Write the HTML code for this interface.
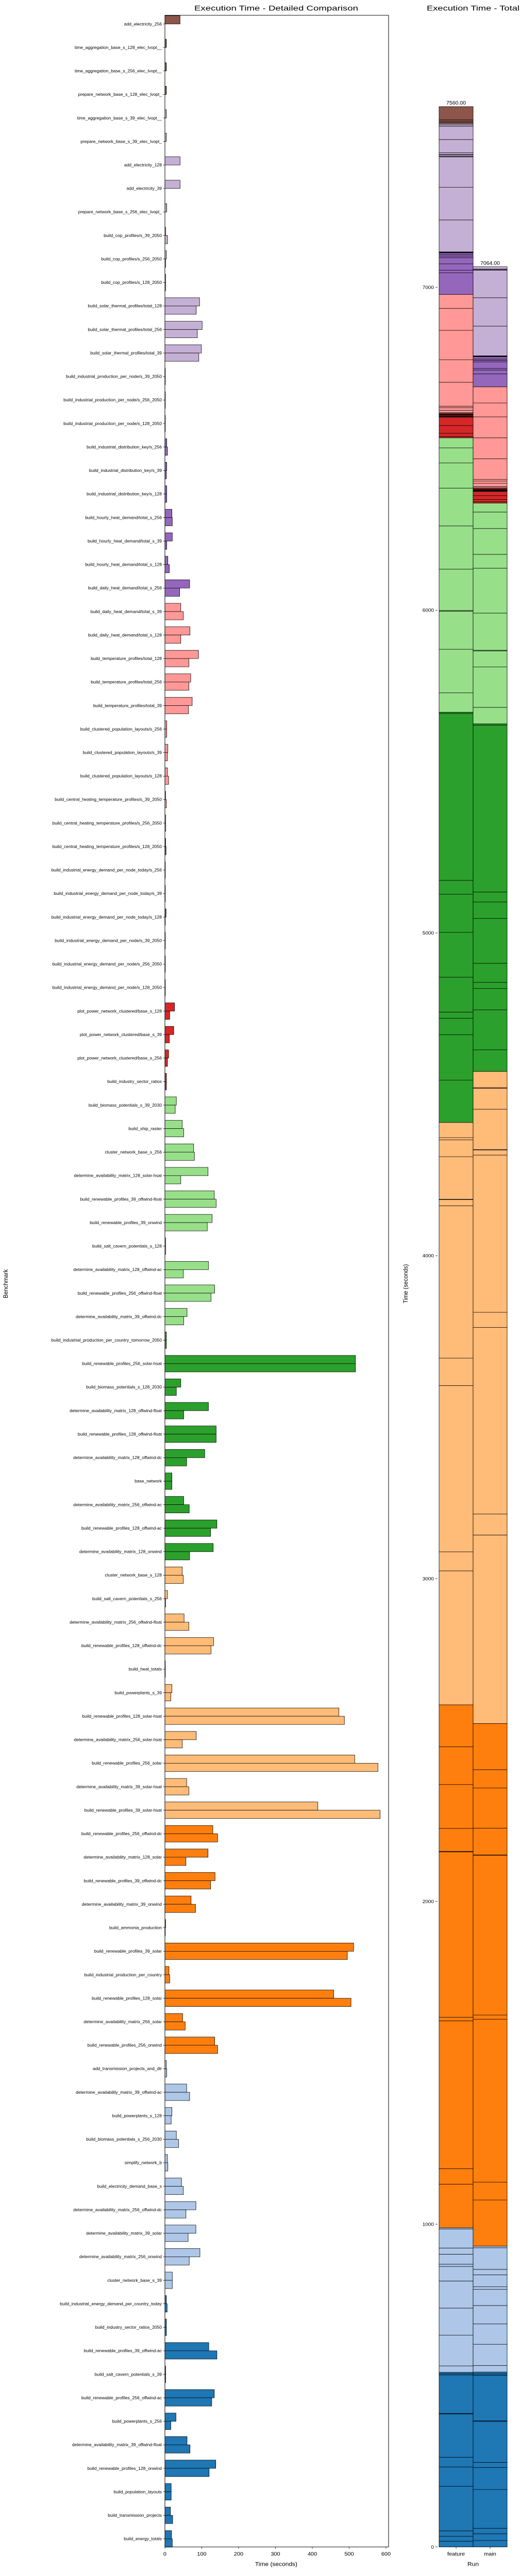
<!DOCTYPE html>
<html><head><meta charset="utf-8">
<style>
html,body{margin:0;padding:0;background:#fff;}
svg{display:block;font-family:"Liberation Sans",sans-serif;}
</style></head>
<body>
<svg id="chart" width="1009" height="5390" viewBox="0 0 1009 5390" xmlns="http://www.w3.org/2000/svg"><g id="root" transform="scale(1,0.9263)"></g></svg>
<script>
const categories = ["add_electricity_256","time_aggregation_base_s_128_elec_lvopt__","time_aggregation_base_s_256_elec_lvopt__","prepare_network_base_s_128_elec_lvopt_","time_aggregation_base_s_39_elec_lvopt__","prepare_network_base_s_39_elec_lvopt_","add_electricity_128","add_electricity_39","prepare_network_base_s_256_elec_lvopt_","build_cop_profiles/s_39_2050","build_cop_profiles/s_256_2050","build_cop_profiles/s_128_2050","build_solar_thermal_profiles/total_128","build_solar_thermal_profiles/total_256","build_solar_thermal_profiles/total_39","build_industrial_production_per_node/s_39_2050","build_industrial_production_per_node/s_256_2050","build_industrial_production_per_node/s_128_2050","build_industrial_distribution_key/s_256","build_industrial_distribution_key/s_39","build_industrial_distribution_key/s_128","build_hourly_heat_demand/total_s_256","build_hourly_heat_demand/total_s_39","build_hourly_heat_demand/total_s_128","build_daily_heat_demand/total_s_256","build_daily_heat_demand/total_s_39","build_daily_heat_demand/total_s_128","build_temperature_profiles/total_128","build_temperature_profiles/total_256","build_temperature_profiles/total_39","build_clustered_population_layouts/s_256","build_clustered_population_layouts/s_39","build_clustered_population_layouts/s_128","build_central_heating_temperature_profiles/s_39_2050","build_central_heating_temperature_profiles/s_256_2050","build_central_heating_temperature_profiles/s_128_2050","build_industrial_energy_demand_per_node_today/s_256","build_industrial_energy_demand_per_node_today/s_39","build_industrial_energy_demand_per_node_today/s_128","build_industrial_energy_demand_per_node/s_39_2050","build_industrial_energy_demand_per_node/s_256_2050","build_industrial_energy_demand_per_node/s_128_2050","plot_power_network_clustered/base_s_128","plot_power_network_clustered/base_s_39","plot_power_network_clustered/base_s_256","build_industry_sector_ratios","build_biomass_potentials_s_39_2030","build_ship_raster","cluster_network_base_s_256","determine_availability_matrix_128_solar-hsat","build_renewable_profiles_39_offwind-float","build_renewable_profiles_39_onwind","build_salt_cavern_potentials_s_128","determine_availability_matrix_128_offwind-ac","build_renewable_profiles_256_offwind-float","determine_availability_matrix_39_offwind-dc","build_industrial_production_per_country_tomorrow_2050","build_renewable_profiles_256_solar-hsat","build_biomass_potentials_s_128_2030","determine_availability_matrix_128_offwind-float","build_renewable_profiles_128_offwind-float","determine_availability_matrix_128_offwind-dc","base_network","determine_availability_matrix_256_offwind-ac","build_renewable_profiles_128_offwind-ac","determine_availability_matrix_128_onwind","cluster_network_base_s_128","build_salt_cavern_potentials_s_256","determine_availability_matrix_256_offwind-float","build_renewable_profiles_128_offwind-dc","build_heat_totals","build_powerplants_s_39","build_renewable_profiles_128_solar-hsat","determine_availability_matrix_256_solar-hsat","build_renewable_profiles_256_solar","determine_availability_matrix_39_solar-hsat","build_renewable_profiles_39_solar-hsat","build_renewable_profiles_256_offwind-dc","determine_availability_matrix_128_solar","build_renewable_profiles_39_offwind-dc","determine_availability_matrix_39_onwind","build_ammonia_production","build_renewable_profiles_39_solar","build_industrial_production_per_country","build_renewable_profiles_128_solar","determine_availability_matrix_256_solar","build_renewable_profiles_256_onwind","add_transmission_projects_and_dlr","determine_availability_matrix_39_offwind-ac","build_powerplants_s_128","build_biomass_potentials_s_256_2030","simplify_network_b","build_electricity_demand_base_s","determine_availability_matrix_256_offwind-dc","determine_availability_matrix_39_solar","determine_availability_matrix_256_onwind","cluster_network_base_s_39","build_industrial_energy_demand_per_country_today","build_industry_sector_ratios_2050","build_renewable_profiles_39_offwind-ac","build_salt_cavern_potentials_s_39","build_renewable_profiles_256_offwind-ac","build_powerplants_s_256","determine_availability_matrix_39_offwind-float","build_renewable_profiles_128_onwind","build_population_layouts","build_transmission_projects","build_energy_totals"];
const featureValues = [41,4,4,4,4,4,41,41,5,2,4,2,94,101,99,1,1,1,5,5,5,19,20,8,67,43,68,91,70,74,5,8,7,2,2,2,1,1,3,1,1,1,26,24,10,4,31,47,78,117,134,128,2,118,135,60,4,517,43,118,139,108,19,51,141,131,47,7,52,132,1,19,472,85,515,59,415,130,117,136,71,2,512,11,458,48,135,4,59,19,31,7,45,84,84,95,20,4,4,119,2,134,30,60,138,17,15,18];
const mainValues = [0,0,0,0,0,0,0,0,0,7,2,2,85,88,92,1,1,1,7,4,5,20,5,12,40,50,43,65,65,64,5,7,10,4,2,3,1,1,1,1,1,1,13,12,7,4,28,51,80,43,139,115,2,50,125,51,4,517,31,51,139,59,19,66,124,67,50,2,65,125,1,16,487,47,578,65,584,143,57,124,83,1,495,13,505,55,143,5,67,17,37,8,50,57,63,66,20,6,4,141,2,127,16,68,120,17,21,20];
const runs = ["feature","main"];
const xTicks = [0,100,200,300,400,500,600];
const yTicksTotal = [0,1000,2000,3000,4000,5000,6000,7000];

const colorGroups=[[0,"#8c564b"],[4,"#c5b0d5"],[18,"#9467bd"],[25,"#ff9896"],[35,"#d62728"],[46,"#98df8a"],[56,"#2ca02c"],[66,"#ffbb78"],[77,"#ff7f0e"],[87,"#aec7e8"],[97,"#1f77b4"]];
function colorOf(i){let c=colorGroups[0][1];for(const g of colorGroups){if(i>=g[0])c=g[1];}return c;}

const root=document.getElementById('root');
const NS="http://www.w3.org/2000/svg";
function el(tag,attrs,parent){const e=document.createElementNS(NS,tag);for(const k in attrs)e.setAttribute(k,attrs[k]);(parent||root).appendChild(e);return e;}

const L={x0:320,x1:754,y0:32,y1:5337};
const xPerSec=71.5;
function xScale(v){return L.x0+v*xPerSec/100;}
const step=49.25, firstY=50.2;
function yCenter(i){return firstY+i*step;}
const barH=17.3;

const left=el('g',{});



const t1=el('text',{x:536,y:22,'text-anchor':'middle','font-size':15,textLength:318,lengthAdjust:'spacingAndGlyphs'},left);
t1.textContent="Execution Time - Detailed Comparison";



categories.forEach((name,i)=>{
  const yc=yCenter(i);
  const g=el('g',{},left);
  
  
  const c=colorOf(i);
  if(featureValues[i]>0){
    const r=el('rect',{x:xScale(0),y:yc-barH,width:xScale(featureValues[i])-xScale(0),height:barH,fill:c,stroke:'#000','stroke-width':0.8},g);
    
    
  }
  if(mainValues[i]>0){
    const r=el('rect',{x:xScale(0),y:yc,width:xScale(mainValues[i])-xScale(0),height:barH,fill:c,stroke:'#000','stroke-width':0.8},g);
    
    
  }
  el('line',{x1:L.x0-3.5,x2:L.x0,y1:yc,y2:yc,stroke:'#000','stroke-width':0.8},g);
  const t=el('text',{x:L.x0-6,y:yc+3,'text-anchor':'end','font-size':8.5},g);
  t.textContent=name;
  
  
});

const frame=el('rect',{x:L.x0,y:L.y0,width:L.x1-L.x0,height:L.y1-L.y0,fill:'none',stroke:'#000','stroke-width':1},left);



xTicks.forEach(v=>{
  const x=xScale(v);
  el('line',{x1:x,x2:x,y1:L.y1,y2:L.y1+3.5,stroke:'#000','stroke-width':0.8},left);
  const t=el('text',{x:x,y:L.y1+18,'text-anchor':'middle','font-size':11},left);
  t.textContent=String(v);
  
  
});
const xl=el('text',{x:536,y:5377,'text-anchor':'middle','font-size':12},left);
xl.textContent="Time (seconds)";


const yl=el('text',{x:0,y:0,'text-anchor':'middle','font-size':12,transform:'translate(15,2690) rotate(-90)'},left);
yl.textContent="Benchmark";



const R={y0base:5337,pxPerUnit:0.6764};
function yScaleTot(v){return R.y0base-v*R.pxPerUnit;}
const colX=[852,918], colW=66;
const right=el('g',{});


const t2=el('text',{x:918,y:22,'text-anchor':'middle','font-size':15,textLength:180,lengthAdjust:'spacingAndGlyphs'},right);
t2.textContent="Execution Time - Total";



[featureValues,mainValues].forEach((vals,ri)=>{
  let cum=0;
  for(let i=vals.length-1;i>=0;i--){
    const v=vals[i];
    if(v<=0)continue;
    const yTop=yScaleTot(cum+v), yBot=yScaleTot(cum);
    const r=el('rect',{x:colX[ri],y:yTop,width:colW,height:yBot-yTop,fill:colorOf(i),stroke:'#000','stroke-width':0.8},right);
    
    
    cum+=v;
  }
  const lab=el('text',{x:colX[ri]+colW/2,y:yScaleTot(cum)-4,'text-anchor':'middle','font-size':10.5},right);
  lab.textContent=cum.toFixed(2);
  
  
  const tx=colX[ri]+colW/2;
  el('line',{x1:tx,x2:tx,y1:R.y0base,y2:R.y0base+3.5,stroke:'#000','stroke-width':0.8},right);
  const rl=el('text',{x:tx,y:R.y0base+18,'text-anchor':'middle','font-size':11},right);
  rl.textContent=runs[ri];
  
  
});
yTicksTotal.forEach(v=>{
  const y=yScaleTot(v);
  el('line',{x1:845,x2:849,y1:y,y2:y,stroke:'#000','stroke-width':0.8},right);
  const t=el('text',{x:842,y:y+3.5,'text-anchor':'end','font-size':10},right);
  t.textContent=String(v);
  
  
});
const rx=el('text',{x:918,y:5377,'text-anchor':'middle','font-size':12},right);
rx.textContent="Run";


const ry=el('text',{x:0,y:0,'text-anchor':'middle','font-size':12,transform:'translate(791,2690) rotate(-90)'},right);
ry.textContent="Time (seconds)";


</script>
</body></html>
